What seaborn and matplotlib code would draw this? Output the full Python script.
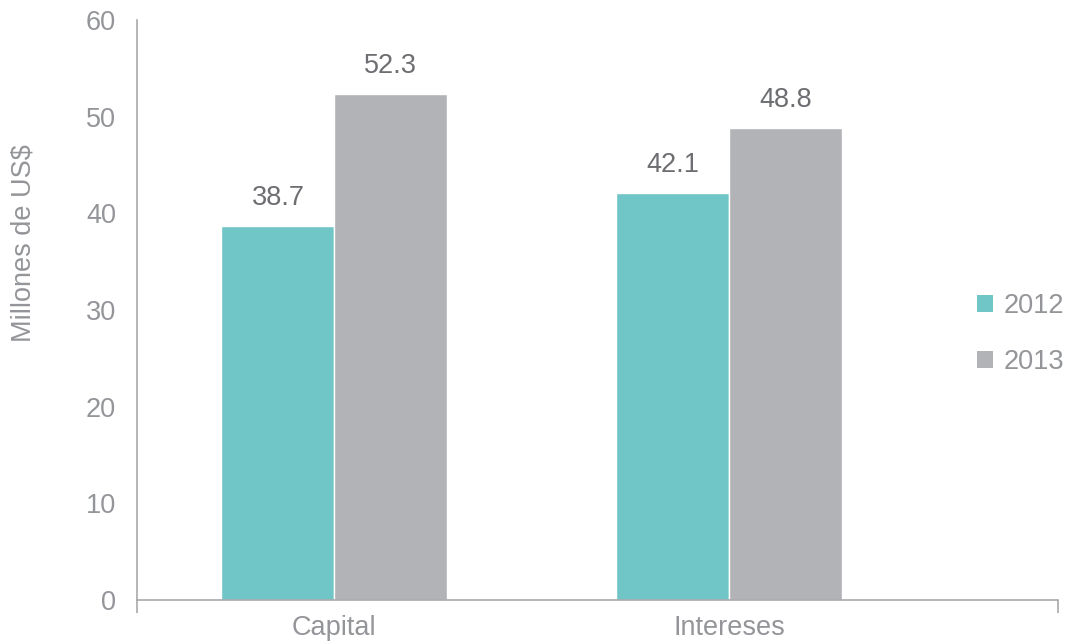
import matplotlib
matplotlib.use("Agg")
import matplotlib.pyplot as plt
import seaborn as sns
import pandas as pd
from matplotlib.patches import Patch

categories = ["Capital", "Intereses"]
years = ["2012", "2013"]
values_2012 = [38.7, 42.1]
values_2013 = [52.3, 48.8]
y_ticks = [0, 10, 20, 30, 40, 50, 60]

df = pd.DataFrame({
    "cat": categories * 2,
    "year": [years[0]] * 2 + [years[1]] * 2,
    "val": values_2012 + values_2013,
})

sns.set_style("white")
plt.rcParams["font.family"] = ["Liberation Sans", "DejaVu Sans"]

colors = {"2012": "#70c5c6", "2013": "#b2b3b7"}
tick_color = "#939598"
label_color = "#6d6e71"
axis_color = "#a7a9ac"
fs = 19.5

fig = plt.figure(figsize=(10.65, 6.41), dpi=100)
ax = fig.add_axes([137 / 1065, 1 - 600 / 641, (1058 - 137) / 1065, (600 - 20) / 641])

sns.barplot(data=df, x="cat", y="val", hue="year", order=categories,
            hue_order=years, palette=colors, width=0.572, ax=ax,
            edgecolor="white", linewidth=1.0, legend=False, saturation=1)

for container in ax.containers:
    ax.bar_label(container, labels=[f"{v:.1f}" for v in container.datavalues],
                 padding=11, fontsize=fs, color=label_color)

ax.set_ylim(0, 60)
ax.set_xlim(-0.5, (1058 - 334) / 395)
ax.set_yticks(y_ticks)
ax.set_yticklabels([str(t) for t in y_ticks], fontsize=fs, color=tick_color)
ax.tick_params(axis="y", length=0, pad=15)
ax.tick_params(axis="x", length=0, pad=11, labelsize=fs, labelcolor=tick_color)
ax.set_yticks([0, 60], minor=True)
ax.set_xticks([-0.5, (1058 - 334) / 395], minor=True)
ax.tick_params(which="minor", length=9, width=1.2, color=axis_color, direction="out")
ax.tick_params(axis="both", which="minor", bottom=True, left=True)

ax.set_xlabel("")
ax.set_ylabel("Millones de US$", fontsize=fs, color=tick_color)
ax.yaxis.set_label_coords((36 - 137) / 921, (600 - 243) / 580)

sns.despine(ax=ax, top=True, right=True)
for s in ["left", "bottom"]:
    ax.spines[s].set_color(axis_color)
    ax.spines[s].set_linewidth(1.2)

handles = [Patch(facecolor=colors[y], edgecolor="none", label=y) for y in years]
leg = fig.legend(handles=handles, loc="center left",
                 bbox_to_anchor=(977 / 1065, 1 - 334 / 641), frameon=False,
                 fontsize=fs, handlelength=0.6, handleheight=0.6,
                 handletextpad=0.4, labelspacing=1.1, borderpad=0,
                 borderaxespad=0, labelcolor=tick_color)

fig.savefig("out.png", dpi=100)
